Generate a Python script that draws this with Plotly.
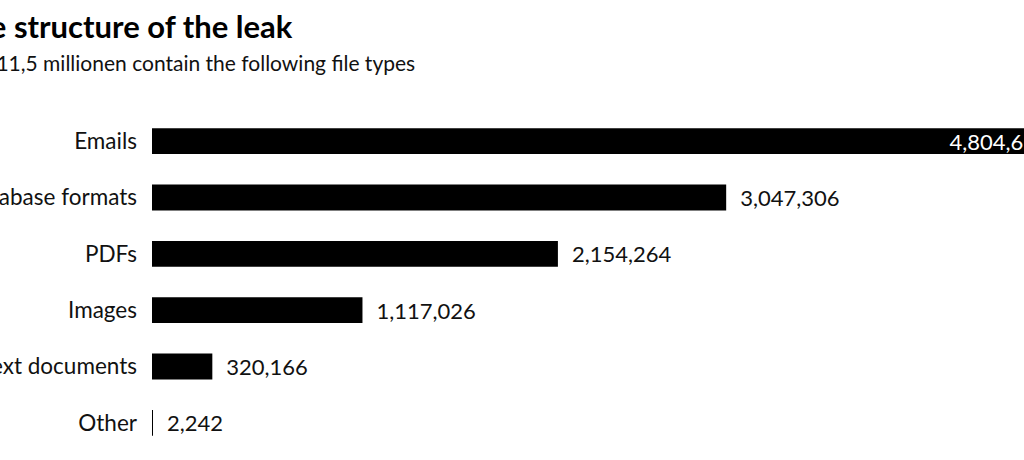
import plotly.graph_objects as go

categories = ["Emails", "Database formats", "PDFs", "Images", "Text documents", "Other"]
values = [4804618, 3047306, 2154264, 1117026, 320166, 2242]
title_text = "The structure of the leak"
subtitle_text = "The 11,5 millionen contain the following file types"

FONT = "Lato, 'Open Sans', sans-serif"

positions = ["inside"] + ["outside"] * (len(values) - 1)
templates = ["%{x:,}\u2005"] + ["\u2002%{x:,}"] * (len(values) - 1)

fig = go.Figure(
    go.Bar(
        x=values,
        y=categories,
        orientation="h",
        marker=dict(color="#000000", line=dict(width=0)),
        texttemplate=templates,
        textposition=positions,
        insidetextanchor="end",
        insidetextfont=dict(color="#ffffff", size=22, family=FONT),
        outsidetextfont=dict(color="#111111", size=22, family=FONT),
        constraintext="none",
        cliponaxis=True,
        hoverinfo="skip",
    )
)

fig.update_layout(
    width=1024,
    height=460,
    margin=dict(l=151.5, r=0, t=113, b=9, autoexpand=False),
    paper_bgcolor="#ffffff",
    plot_bgcolor="#ffffff",
    bargap=0.54,
    showlegend=False,
    font=dict(family=FONT, color="#111111", size=23),
    xaxis=dict(
        range=[0, 4627910],
        visible=False,
        showgrid=False,
        zeroline=False,
        fixedrange=True,
    ),
    yaxis=dict(
        type="category",
        autorange="reversed",
        showgrid=False,
        zeroline=False,
        showline=False,
        ticks="",
        ticklabelstandoff=14,
        automargin=False,
        tickfont=dict(size=22.5, family=FONT, color="#111111"),
        fixedrange=True,
    ),
    annotations=[
        dict(
            text="<b>" + title_text + "</b>",
            xref="paper", yref="paper",
            x=0.1645, y=1.257,
            xanchor="right", yanchor="middle",
            showarrow=False,
            font=dict(size=31, family=FONT, color="#000000"),
        ),
        dict(
            text=subtitle_text,
            xref="paper", yref="paper",
            x=0.3043, y=1.15,
            xanchor="right", yanchor="middle",
            showarrow=False,
            font=dict(size=21, family=FONT, color="#111111"),
        ),
    ],
)

fig.write_html(
    "out.html",
    config={"displayModeBar": False},
    post_script=(
        "document.body.style.margin='0';"
        "document.body.style.overflow='hidden';"
        "document.documentElement.style.overflow='hidden';"
    ),
)
